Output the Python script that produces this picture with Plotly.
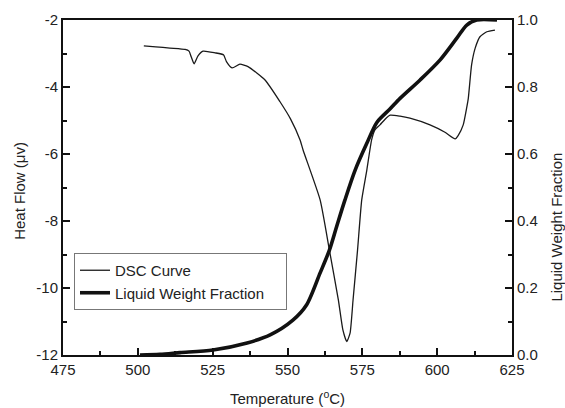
import plotly.graph_objects as go

# DSC curve (Temperature °C, Heat Flow µV)
dsc_temp = [502.0, 506.0, 510.7, 515.8, 517.1, 517.8, 518.8, 520.1, 521.8, 525.8,
            528.6, 529.6, 531.5, 534.1, 536.8, 542.5, 547.5, 551.0, 554.2, 555.2,
            560.9, 564.0, 567.0, 568.5, 569.8, 570.9, 571.9, 573.4, 574.8, 576.5,
            578.1, 579.2, 580.9, 582.6, 584.3, 587.6, 590.9, 597.6, 602.6, 606.0,
            607.0, 608.7, 609.9, 610.4, 611.5, 612.7, 614.3, 616.6, 619.3]
dsc_heat = [-2.77, -2.80, -2.84, -2.88, -2.93, -3.09, -3.31, -3.07, -2.93, -2.98,
            -3.04, -3.24, -3.43, -3.32, -3.39, -3.79, -4.44, -4.95, -5.58, -5.88,
            -7.37, -8.87, -10.36, -11.25, -11.60, -11.35, -10.36, -8.87, -7.37, -6.48,
            -5.58, -5.28, -5.13, -4.96, -4.84, -4.87, -4.93, -5.13, -5.35, -5.55,
            -5.45, -5.13, -4.60, -4.34, -3.34, -2.84, -2.50, -2.35, -2.30]

# Liquid weight fraction (Temperature °C, fraction)
lwf_temp = [500.7, 507.4, 514.1, 525.1, 536.5, 544.2, 551.8, 556.4, 560.9, 564.0,
            566.4, 569.2, 572.6, 576.5, 579.9, 584.3, 587.6, 594.3, 601.0, 606.5,
            609.9, 613.2, 620.0]
lwf_frac = [0.000, 0.002, 0.007, 0.015, 0.036, 0.060, 0.104, 0.150, 0.245, 0.313,
            0.383, 0.463, 0.552, 0.632, 0.695, 0.735, 0.766, 0.821, 0.881, 0.945,
            0.985, 1.000, 1.000]

x_ticks = [475, 500, 525, 550, 575, 600, 625]
y_ticks = [-12, -10, -8, -6, -4, -2]
y_tick_labels = ["-12", "-10", "-8", "-6", "-4", "-2"]
y2_ticks = [0.0, 0.2, 0.4, 0.6, 0.8, 1.0]
y2_tick_labels = ["0.0", "0.2", "0.4", "0.6", "0.8", "1.0"]

FONT = "Liberation Sans, Arial, sans-serif"
TXT = "#222222"

fig = go.Figure()
fig.add_trace(go.Scatter(x=dsc_temp, y=dsc_heat, mode="lines", name="DSC Curve",
                         line=dict(color="#1a1a1a", width=1.3, shape="spline", smoothing=0.5)))
fig.add_trace(go.Scatter(x=lwf_temp, y=lwf_frac, mode="lines",
                         name="Liquid Weight Fraction\u00a0\u00a0\u00a0\u00a0",
                         yaxis="y2",
                         line=dict(color="#111111", width=3.6, shape="spline", smoothing=0.8)))

axis_common = dict(showline=True, linecolor="#111111", linewidth=2, ticks="inside",
                   tickcolor="#111111", tickwidth=2, ticklen=7, showgrid=False,
                   zeroline=False, automargin=False,
                   tickfont=dict(family=FONT, size=15, color=TXT))
minor_common = dict(ticks="inside", ticklen=4, tickwidth=1.5, tickcolor="#111111")

fig.update_layout(
    width=565, height=408,
    margin=dict(l=63, r=53, t=20, b=53),
    paper_bgcolor="white", plot_bgcolor="white",
    font=dict(family=FONT, size=15, color=TXT),
    xaxis=dict(range=[475, 625], tickvals=x_ticks, mirror=True,
               minor=dict(dtick=12.5, tick0=475, **minor_common),
               **axis_common),
    yaxis=dict(range=[-12, -2], tickvals=y_ticks, ticktext=y_tick_labels,
               minor=dict(dtick=1, tick0=-12, **minor_common),
               **axis_common),
    yaxis2=dict(range=[0, 1], tickvals=y2_ticks, ticktext=y2_tick_labels,
                overlaying="y", side="right",
                minor=dict(dtick=0.1, tick0=0, **minor_common),
                **axis_common),
    legend=dict(x=0.0245, y=0.3045, xanchor="left", yanchor="top",
                bordercolor="#777777", borderwidth=1, bgcolor="white",
                font=dict(family=FONT, size=15, color=TXT),
                tracegroupgap=0),
    showlegend=True,
    annotations=[
        dict(text="Temperature (<sup>o</sup>C)", xref="paper", yref="paper",
             x=0.499, y=-0.128, xanchor="center", yanchor="middle", showarrow=False,
             font=dict(family=FONT, size=15, color=TXT)),
        dict(text="Heat Flow (\u03bcv)", xref="paper", yref="paper",
             x=-0.0958, y=0.49, xanchor="center", yanchor="middle", textangle=-90,
             showarrow=False, font=dict(family=FONT, size=15, color=TXT)),
        dict(text="Liquid Weight Fraction", xref="paper", yref="paper",
             x=1.097, y=0.382, xanchor="center", yanchor="middle", textangle=-90,
             showarrow=False, font=dict(family=FONT, size=15, color=TXT)),
    ],
)

# remove the default 8px page margin so the 565x408 figure fills the window exactly
fig.write_html("out.html", config={"displayModeBar": False},
               post_script="document.body.style.margin='0';document.body.style.overflow='hidden';")
